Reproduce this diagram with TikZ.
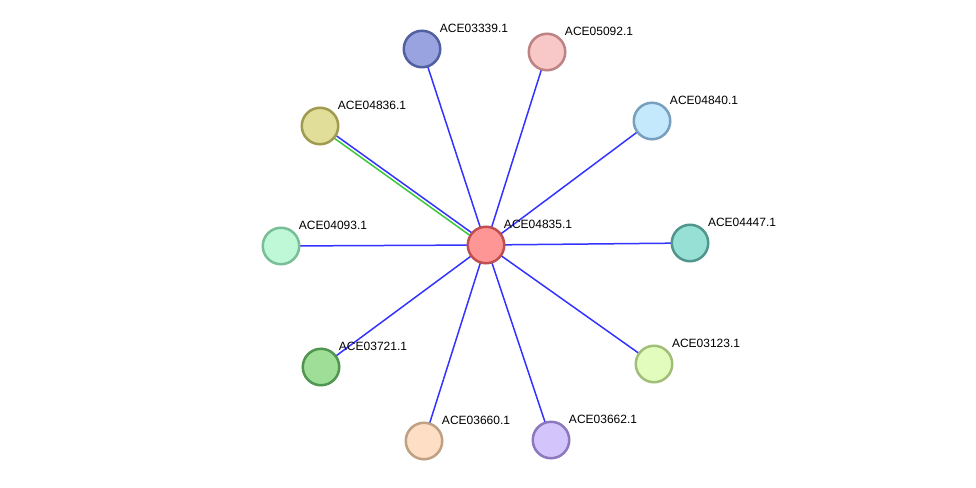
\documentclass[tikz,border=0pt]{standalone}
\usepackage{fontspec}
\setmainfont{Liberation Sans}
\usetikzlibrary{calc,backgrounds}

\definecolor{linkblue}{RGB}{51,51,255}
\definecolor{linkgreen}{RGB}{60,200,60}

\begin{document}
\begin{tikzpicture}[
  x=1pt,y=-1pt,
  protein/.style={circle,line width=2.5pt,minimum size=36.5pt,inner sep=0pt},
  lbl/.style={font=\fontsize{12}{14}\selectfont,inner sep=0pt,xshift=4pt,yshift=2.5pt},
  assoc/.style={linkblue,line width=1.5pt}
]
  \useasboundingbox (0,0) rectangle (976,487);

  \node[protein,fill={rgb,255:red,255;green,150;blue,150},draw={rgb,255:red,192;green,80;blue,80},
    label={[lbl]above right:ACE04835.1}] (center) at (486,245) {};

  \node[protein,fill={rgb,255:red,153;green,163;blue,224},draw={rgb,255:red,80;green,96;blue,160},
    label={[lbl]above right:ACE03339.1}] (p03339) at (422,49) {};
  \node[protein,fill={rgb,255:red,248;green,200;blue,200},draw={rgb,255:red,190;green,130;blue,130},
    label={[lbl]above right:ACE05092.1}] (p05092) at (547,52) {};
  \node[protein,fill={rgb,255:red,196;green,232;blue,252},draw={rgb,255:red,120;green,160;blue,190},
    label={[lbl]above right:ACE04840.1}] (p04840) at (652,121) {};
  \node[protein,fill={rgb,255:red,224;green,222;blue,152},draw={rgb,255:red,160;green,155;blue,80},
    label={[lbl]above right:ACE04836.1}] (p04836) at (320,126) {};
  \node[protein,fill={rgb,255:red,190;green,248;blue,214},draw={rgb,255:red,120;green,190;blue,150},
    label={[lbl]above right:ACE04093.1}] (p04093) at (281,246) {};
  \node[protein,fill={rgb,255:red,150;green,224;blue,214},draw={rgb,255:red,80;green,150;blue,140},
    label={[lbl]above right:ACE04447.1}] (p04447) at (690,243) {};
  \node[protein,fill={rgb,255:red,158;green,222;blue,150},draw={rgb,255:red,80;green,150;blue,80},
    label={[lbl]above right:ACE03721.1}] (p03721) at (321,367) {};
  \node[protein,fill={rgb,255:red,226;green,252;blue,190},draw={rgb,255:red,160;green,190;blue,120},
    label={[lbl]above right:ACE03123.1}] (p03123) at (654,364) {};
  \node[protein,fill={rgb,255:red,254;green,222;blue,196},draw={rgb,255:red,190;green,160;blue,130},
    label={[lbl]above right:ACE03660.1}] (p03660) at (424,441) {};
  \node[protein,fill={rgb,255:red,212;green,196;blue,252},draw={rgb,255:red,140;green,120;blue,190},
    label={[lbl]above right:ACE03662.1}] (p03662) at (551,440) {};

  \begin{pgfonlayer}{background}
    \foreach \p in {p03339,p05092,p04840,p04093,p04447,p03721,p03123,p03660,p03662}
      \draw[assoc] (center.center) -- (\p.center);
    % two evidence lines side by side
    \draw[assoc] ($(p04836)!1.6pt!90:(center)$) -- ($(center)!1.6pt!-90:(p04836)$);
    \draw[assoc,linkgreen] ($(p04836)!1.6pt!-90:(center)$) -- ($(center)!1.6pt!90:(p04836)$);
  \end{pgfonlayer}
\end{tikzpicture}
\end{document}
